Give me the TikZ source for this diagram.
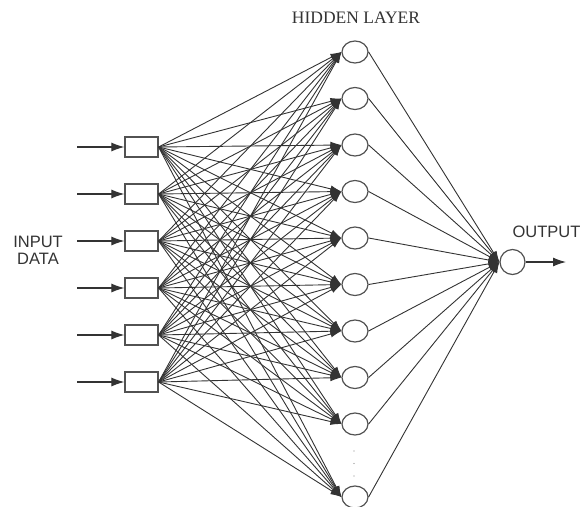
\documentclass[tikz,border=0pt]{standalone}
\usepackage{fontspec}
\setmainfont{Liberation Serif}
\newfontfamily\labelfont{Liberation Sans}
\usetikzlibrary{arrows.meta,shapes.geometric}
\definecolor{ink}{HTML}{333333}
\tikzset{
  inbox/.style={draw=ink!85, line width=1.2pt, minimum width=33pt, minimum height=20pt, inner sep=0pt},
  hid/.style={ellipse, draw=ink!85, line width=1.2pt, minimum width=26pt, minimum height=22pt, inner sep=0pt},
  outn/.style={circle, draw=ink!85, line width=1.2pt, minimum size=25pt, inner sep=0pt},
  wire/.style={draw=ink, line width=0.9pt, -{Latex[length=11pt,width=7pt]}},
  feed/.style={draw=ink, line width=1.1pt, -{Latex[length=13pt,width=9pt]}},
  lbl/.style={font=\labelfont\fontsize{16.5}{18}\selectfont, text=ink},
  ttl/.style={font=\fontsize{17.5}{20}\selectfont, text=ink}
}
\begin{document}
\begin{tikzpicture}[x=1pt,y=-1pt]
\useasboundingbox (0,0) rectangle (580,506);

% title
\node[ttl] (title) at (356,18) {HIDDEN LAYER};

% input layer
\foreach \k in {1,...,6} {
  \node[inbox] (i\k) at (141.5,{147+47*(\k-1)}) {};
  \coordinate (s\k) at (77,{147+47*(\k-1)});
  \draw[feed] (s\k) -- (i\k.west);
}
\node[lbl, align=center] (inlabel) at (38,250) {INPUT\\[-1pt]DATA};

% hidden layer
\foreach \k in {1,...,9} {
  \node[hid] (h\k) at (355,{52+46.5*(\k-1)}) {};
}
\node[hid] (h10) at (355,497) {};
\foreach \d in {451,463.5,476} {
  \fill[ink!60] (354,\d) circle (0.7pt);
}

% output
\node[outn] (o) at (512.5,262) {};
\coordinate (oend) at (566,262);
\draw[feed] (o.east) -- (oend);
\node[lbl, anchor=west] (outlabel) at (509,232) {OUTPUT};

% input -> hidden
\foreach \a in {1,...,6} {
  \foreach \b in {1,...,10} {
    \draw[wire] (i\a.east) -- (h\b.west);
  }
}

% hidden -> output
\foreach \b in {1,...,10} {
  \draw[wire] (h\b.east) -- (o.west);
}
\end{tikzpicture}
\end{document}
